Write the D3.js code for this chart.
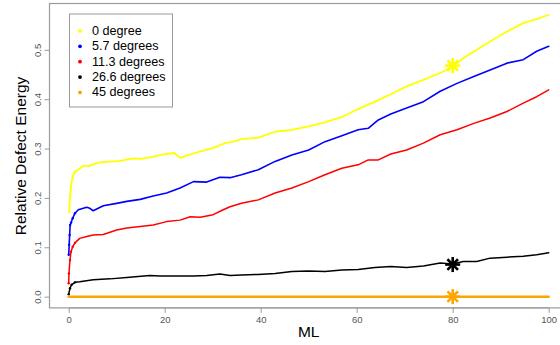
<!DOCTYPE html>
<html><head><meta charset="utf-8">
<script src="https://cdn.jsdelivr.net/npm/d3@7"></script>
<style>body{margin:0;background:#fff;}svg{display:block;font-family:"Liberation Sans",Arial,sans-serif;}</style>
</head><body>
<svg id="c" width="560" height="345"></svg>
<script>
// ---- data ----
const legendLabels = ["0 degree","5.7 degrees","11.3 degrees","26.6 degrees","45 degrees"];
const seriesColors = ["#ffff00","#0000ff","#ff0000","#000000","#ffa500"];
const xTicks = [0,20,40,60,80,100];
const yTicks = [0,0.1,0.2,0.3,0.4,0.5];

const mlYellow = [0.12,0.27,0.48,0.83,1.3,2.3,3,4.4,5.1,6.5,8,10.7,13.5,15,17.5,19.7,22,23.2,25,27.3,30,32.6,34.3,36,39.5,43,46.5,50,53.4,56.9,60.3,63.8,67.1,70.4,73.9,77.4,80,82.2,85,87.8,91.3,94.7,97.5,100];
const eYellow  = [0.172,0.203,0.223,0.243,0.253,0.259,0.265,0.265,0.268,0.272,0.273,0.275,0.280,0.279,0.283,0.288,0.291,0.281,0.287,0.294,0.301,0.311,0.314,0.319,0.322,0.334,0.338,0.345,0.353,0.364,0.380,0.395,0.410,0.426,0.439,0.453,0.466,0.483,0.500,0.517,0.537,0.554,0.562,0.571];

const mlBlue = [0,0.1,0.2,0.3,0.5,0.83,1.3,2,3.75,4.4,5.1,7.2,10,12.1,14.9,17.6,20.4,23.2,26,28.75,31.5,33.6,36,39.5,43,46.5,50,53.4,56.9,60.3,62.4,64.5,67.1,70.4,73.9,77.4,80.9,84.4,87.8,91.3,94.7,97.5,100];
const eBlue  = [0.085,0.105,0.125,0.145,0.150,0.159,0.169,0.176,0.181,0.179,0.174,0.184,0.189,0.193,0.197,0.204,0.210,0.220,0.233,0.232,0.242,0.241,0.247,0.257,0.274,0.287,0.297,0.314,0.326,0.338,0.341,0.358,0.370,0.382,0.395,0.416,0.432,0.446,0.459,0.473,0.480,0.497,0.507];

const mlRed = [0,0.05,0.27,0.48,0.83,1.3,2.3,3.75,5.1,7.2,10,12.1,14.9,17.6,20.4,23.2,25.3,27.4,30.1,32.2,33.6,36,39.5,43,46.5,50,53.4,56.9,60.3,62.4,64.5,67.1,70.4,73.9,77.4,80.9,84.4,87.8,91.3,94.7,97.5,100];
const eRed  = [0.027,0.047,0.074,0.091,0.101,0.109,0.118,0.122,0.125,0.126,0.135,0.139,0.142,0.145,0.152,0.155,0.162,0.161,0.166,0.176,0.182,0.189,0.196,0.210,0.220,0.233,0.247,0.260,0.267,0.277,0.277,0.289,0.297,0.311,0.328,0.338,0.351,0.362,0.375,0.392,0.405,0.419];

const mlBlack = [0,0.27,0.6,1.3,2.3,5.1,8.6,12.1,16.9,19,22.5,26,28.75,31.5,33.6,36,39.5,43,46.5,50,53.4,56.9,60.3,63.8,67.1,70.4,73.9,77.4,80,82.2,85,87.8,91.3,94.7,97.5,100];
const eBlack  = [0.005,0.017,0.024,0.029,0.030,0.034,0.036,0.039,0.043,0.042,0.042,0.042,0.043,0.046,0.043,0.044,0.045,0.047,0.051,0.052,0.051,0.054,0.055,0.059,0.061,0.059,0.062,0.068,0.066,0.071,0.071,0.078,0.080,0.082,0.085,0.089];

const mlOrange = [0,100];
const eOrange  = [0,0];

const starML = [80,80,80];
const starE  = [0.468,0.065,0.0];
const starColors = ["#ffff00","#000000","#ffa500"];

// ---- drawing ----
const svg = d3.select("#c");
const x = d3.scaleLinear().domain([-4,104]).range([49.5,567.9]);
const y = d3.scaleLinear().domain([-0.0228,0.5928]).range([307.9,4.0]);
const grey = "#9a9a9a";

const series = [
  {ml:mlYellow,e:eYellow,w:1.8},
  {ml:mlBlue,e:eBlue,w:1.6},
  {ml:mlRed,e:eRed,w:1.5},
  {ml:mlBlack,e:eBlack,w:1.5},
  {ml:mlOrange,e:eOrange,w:2.5}
];
const line = d3.line().x(d=>x(d[0])).y(d=>y(d[1]));
series.forEach((s,i)=>{
  const pts = s.ml.map((m,j)=>[m,s.e[j]]);
  svg.append("path").attr("d",line(pts)).attr("fill","none")
    .attr("stroke",seriesColors[i]).attr("stroke-width",s.w)
    .attr("stroke-linejoin","round").attr("stroke-linecap","round");
  if (i<4) {
    svg.append("g").selectAll("circle").data(pts.filter(p=>p[0]<1.5)).join("circle")
      .attr("cx",p=>x(p[0])).attr("cy",p=>y(p[1])).attr("r",1.2).attr("fill",seriesColors[i]);
  }
});

// asterisk markers
starML.forEach((m,i)=>{
  const cx=x(m), cy=y(starE[i]), a=7.5, b=5.3;
  const g=svg.append("g").attr("stroke",starColors[i]).attr("stroke-width",2.6).attr("stroke-linecap","butt");
  g.append("line").attr("x1",cx-a).attr("y1",cy).attr("x2",cx+a).attr("y2",cy);
  g.append("line").attr("x1",cx).attr("y1",cy-a).attr("x2",cx).attr("y2",cy+a);
  g.append("line").attr("x1",cx-b).attr("y1",cy-b).attr("x2",cx+b).attr("y2",cy+b);
  g.append("line").attr("x1",cx-b).attr("y1",cy+b).attr("x2",cx+b).attr("y2",cy-b);
});

// box
svg.append("rect").attr("x",49.5).attr("y",3.5).attr("width",567.9-49.5).attr("height",307.9-3.5)
  .attr("fill","none").attr("stroke",grey).attr("stroke-width",1.2);

// x axis
const xa = svg.append("g").attr("transform","translate(0,307.9)")
  .call(d3.axisBottom(x).tickValues(xTicks).tickSize(5).tickSizeOuter(0).tickPadding(3).tickFormat(d3.format("d")));
xa.select(".domain").attr("d",`M${x(0)},0H${x(100)}`).attr("stroke",grey);
xa.selectAll(".tick line").attr("stroke",grey);
xa.selectAll(".tick text").attr("font-size",9.5).attr("fill","#555").attr("font-family","Liberation Sans, Arial, sans-serif");

// y axis
const ya = svg.append("g").attr("transform","translate(49.5,0)")
  .call(d3.axisLeft(y).tickValues(yTicks).tickSize(5).tickSizeOuter(0).tickFormat(d3.format(".1f")));
ya.select(".domain").attr("d",`M0,${y(0)}V${y(0.5)}`).attr("stroke",grey);
ya.selectAll(".tick line").attr("stroke",grey);
ya.selectAll(".tick text").attr("font-size",9.5).attr("fill","#555").attr("font-family","Liberation Sans, Arial, sans-serif")
  .attr("x",null).attr("dy",null).attr("text-anchor","middle")
  .attr("transform","translate(-12.5,0) rotate(-90)").attr("dominant-baseline","central");

// axis titles
svg.append("text").attr("x",x(50)).attr("y",337).attr("text-anchor","middle")
  .attr("font-size",15.5).attr("fill","#000").text("ML");
svg.append("text").attr("transform",`translate(25.5,${(4+307.9)/2}) rotate(-90)`).attr("text-anchor","middle")
  .attr("font-size",15.5).attr("fill","#000").text("Relative Defect Energy");

// legend
const lg = svg.append("g");
lg.append("rect").attr("x",69.5).attr("y",14).attr("width",103).attr("height",93)
  .attr("fill","#fff").attr("stroke",grey).attr("stroke-width",1);
legendLabels.forEach((t,i)=>{
  const cy = 31 + i*15.35;
  lg.append("circle").attr("cx",80).attr("cy",cy).attr("r",1.9).attr("fill",seriesColors[i]);
  lg.append("text").attr("x",92).attr("y",cy).attr("dominant-baseline","central")
    .attr("font-size",12.6).attr("fill","#000").text(t);
});
</script>
</body></html>
